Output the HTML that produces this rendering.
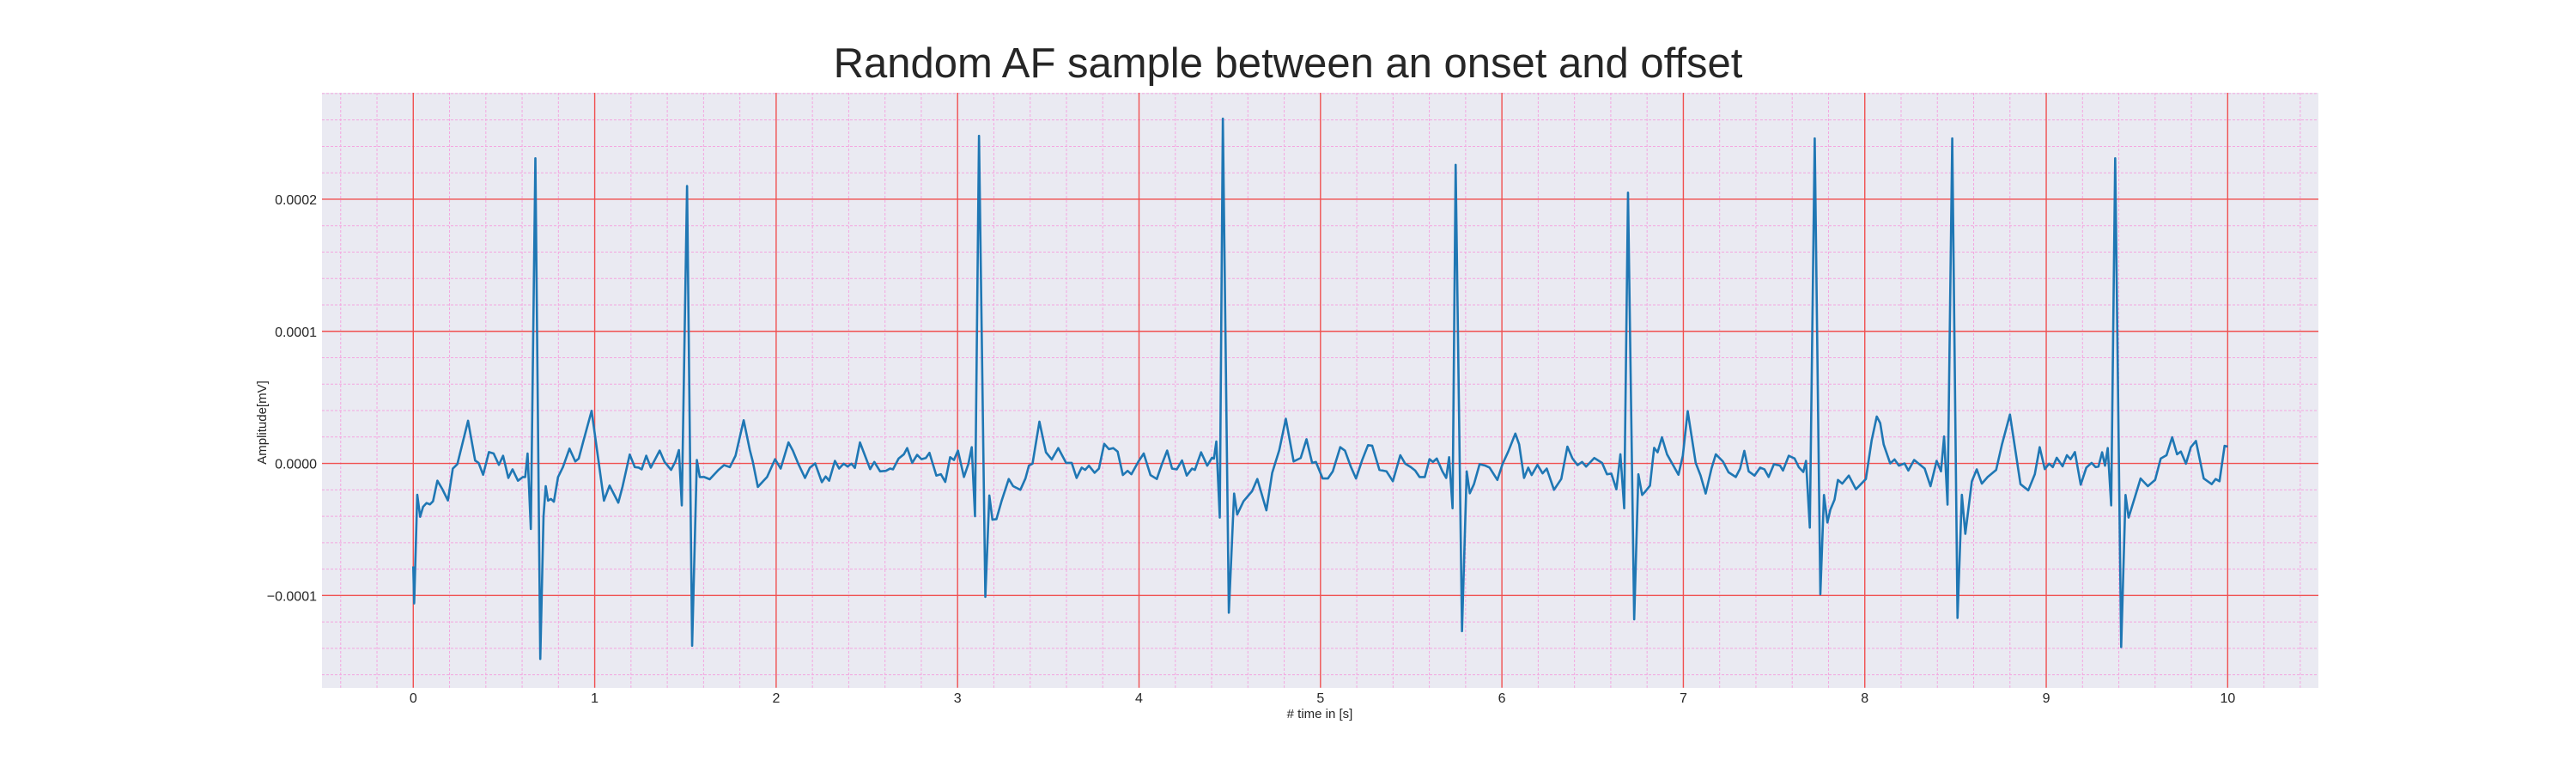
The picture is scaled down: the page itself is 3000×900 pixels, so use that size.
<!DOCTYPE html>
<html><head><meta charset="utf-8">
<style>
html,body{margin:0;padding:0;background:#fff;}
svg{display:block;font-family:"Liberation Sans",Arial,sans-serif;}
</style></head>
<body>
<svg id="chart" width="3000" height="900" viewBox="0 0 3000 900" xmlns="http://www.w3.org/2000/svg">
<text x="1500" y="90" text-anchor="middle" font-size="49" fill="#262626">Random AF sample between an onset and offset</text>
<rect x="375" y="108" width="2325" height="693" fill="#EAEAF2"/>
<g id="grid"></g>
<g id="ticks"></g>
<path id="line" fill="none" stroke="#1f77b4" stroke-width="2.6" stroke-linejoin="round"/>
<text x="1537" y="836" text-anchor="middle" font-size="15" fill="#262626"># time in [s]</text>
<text x="0" y="0" transform="translate(310,492) rotate(-90)" text-anchor="middle" font-size="15" fill="#262626">Amplitude[mV]</text>
</svg>
<script>
// Data (time in s, amplitude in units of 1e-5 mV)
const UNIT = 1e-5;
const times = [0,0.005,0.022,0.038,0.054,0.073,0.092,0.109,0.133,0.16,0.191,0.218,0.243,0.302,0.341,0.36,0.385,0.417,0.443,0.472,0.495,0.524,0.547,0.577,0.604,0.617,0.63,0.648,0.673,0.7,0.718,0.73,0.743,0.759,0.775,0.798,0.825,0.861,0.893,0.912,0.937,0.983,1.051,1.082,1.13,1.153,1.193,1.221,1.243,1.259,1.284,1.309,1.358,1.385,1.421,1.445,1.464,1.48,1.509,1.537,1.563,1.579,1.603,1.634,1.682,1.713,1.745,1.776,1.821,1.855,1.871,1.899,1.95,1.994,2.025,2.068,2.092,2.123,2.159,2.186,2.215,2.252,2.273,2.292,2.324,2.347,2.372,2.394,2.415,2.434,2.462,2.518,2.541,2.573,2.605,2.628,2.644,2.675,2.704,2.722,2.75,2.777,2.801,2.825,2.845,2.883,2.908,2.932,2.959,2.98,3.002,3.035,3.059,3.078,3.096,3.118,3.153,3.175,3.192,3.214,3.243,3.282,3.306,3.346,3.374,3.393,3.413,3.451,3.487,3.519,3.555,3.598,3.629,3.656,3.684,3.703,3.724,3.755,3.779,3.808,3.834,3.858,3.882,3.911,3.937,3.958,3.997,4.026,4.063,4.098,4.126,4.155,4.182,4.208,4.237,4.263,4.292,4.308,4.342,4.376,4.402,4.413,4.426,4.445,4.462,4.495,4.524,4.541,4.576,4.623,4.652,4.702,4.734,4.773,4.809,4.852,4.891,4.923,4.954,4.975,5.012,5.041,5.068,5.109,5.135,5.167,5.196,5.23,5.262,5.285,5.325,5.364,5.399,5.44,5.467,5.498,5.522,5.546,5.575,5.601,5.62,5.641,5.672,5.693,5.709,5.728,5.745,5.78,5.806,5.823,5.846,5.877,5.909,5.932,5.975,6.003,6.035,6.074,6.095,6.122,6.145,6.164,6.196,6.224,6.247,6.287,6.327,6.361,6.389,6.417,6.442,6.464,6.509,6.552,6.579,6.603,6.631,6.653,6.674,6.695,6.729,6.752,6.773,6.792,6.816,6.839,6.858,6.882,6.91,6.973,6.997,7.024,7.068,7.095,7.123,7.155,7.179,7.218,7.249,7.289,7.313,7.336,7.36,7.392,7.423,7.447,7.47,7.499,7.533,7.549,7.581,7.613,7.636,7.661,7.676,7.697,7.724,7.755,7.775,7.794,7.81,7.833,7.852,7.876,7.912,7.951,8.006,8.038,8.066,8.085,8.104,8.14,8.164,8.188,8.219,8.24,8.272,8.295,8.33,8.362,8.396,8.42,8.437,8.456,8.482,8.511,8.535,8.554,8.59,8.617,8.645,8.677,8.724,8.756,8.8,8.858,8.901,8.937,8.964,8.992,9.016,9.036,9.058,9.09,9.114,9.134,9.158,9.19,9.221,9.25,9.272,9.288,9.308,9.324,9.339,9.358,9.38,9.413,9.437,9.454,9.489,9.52,9.56,9.6,9.631,9.663,9.694,9.721,9.742,9.77,9.797,9.825,9.868,9.912,9.934,9.955,9.983,10.0];
const values = [-7.8,-10.6,-2.37,-4.04,-3.29,-3.0,-3.1,-2.86,-1.31,-1.94,-2.8,-0.39,-0.06,3.23,0.22,0.04,-0.86,0.86,0.75,-0.11,0.58,-1.1,-0.45,-1.31,-1.03,-1.03,0.75,-4.97,23.1,-14.8,-4.0,-1.72,-2.82,-2.69,-2.9,-1.03,-0.28,1.12,0.15,0.37,1.66,3.98,-2.82,-1.68,-2.97,-1.78,0.67,-0.28,-0.32,-0.45,0.58,-0.32,0.97,0.11,-0.49,0.15,1.01,-3.18,21.0,-13.8,0.26,-1.03,-1.03,-1.2,-0.49,-0.13,-0.28,0.58,3.27,1.01,0.15,-1.78,-1.03,0.32,-0.39,1.59,0.97,-0.06,-1.1,-0.32,0.0,-1.42,-0.99,-1.31,0.19,-0.39,-0.02,-0.24,-0.02,-0.34,1.59,-0.43,0.11,-0.6,-0.56,-0.39,-0.45,0.37,0.69,1.16,0.04,0.65,0.32,0.41,0.8,-0.92,-0.82,-1.4,0.47,0.26,0.97,-1.03,-0.06,1.23,-4.0,24.8,-10.1,-2.43,-4.26,-4.22,-2.82,-1.18,-1.72,-2.0,-1.14,-0.17,-0.02,3.16,0.84,0.3,1.16,0.04,0.04,-1.1,-0.32,-0.49,-0.17,-0.71,-0.39,1.48,1.08,1.16,0.9,-0.88,-0.56,-0.82,0.15,0.75,-0.88,-1.18,-0.06,0.97,-0.39,-0.45,0.22,-0.92,-0.39,-0.49,0.84,-0.17,0.43,0.37,1.66,-4.1,26.1,-11.3,-2.28,-3.87,-2.86,-2.1,-1.18,-3.55,-0.71,1.01,3.38,0.15,0.41,1.83,0.04,0.11,-1.14,-1.14,-0.6,1.23,0.97,-0.24,-1.14,0.26,1.38,1.34,-0.49,-0.6,-1.35,0.62,-0.02,-0.28,-0.54,-1.03,-1.03,0.32,0.11,0.37,-0.6,-1.1,0.47,-3.4,22.6,-12.7,-0.6,-2.26,-1.57,-0.06,-0.17,-0.32,-1.25,-0.06,0.9,2.26,1.44,-1.1,-0.32,-0.88,-0.11,-0.75,-0.39,-2.0,-1.18,1.27,0.37,-0.13,0.11,-0.24,0.41,0.04,-0.82,-0.77,-1.96,0.69,-3.4,20.5,-11.8,-0.82,-2.39,-2.1,-1.68,1.18,0.84,1.98,0.69,-0.86,0.58,3.96,0.04,-0.92,-2.28,-0.39,0.69,0.15,-0.67,-1.03,-0.39,0.95,-0.6,-0.92,-0.32,-0.45,-1.03,-0.06,-0.17,-0.54,0.58,0.37,-0.28,-0.65,0.19,-4.86,24.6,-9.9,-2.39,-4.47,-3.51,-2.75,-1.25,-1.53,-0.92,-1.96,-1.18,1.76,3.55,3.05,1.44,0.0,0.3,-0.17,0.0,-0.54,0.26,0.0,-0.39,-1.72,0.19,-0.6,2.04,-3.12,24.6,-11.7,-2.37,-5.33,-1.35,-0.45,-1.53,-1.03,-0.49,1.44,3.7,-1.57,-2.04,-0.82,1.23,-0.43,-0.02,-0.28,0.43,-0.22,0.62,0.32,0.86,-1.61,-0.32,0.04,-0.28,-0.24,0.84,-0.17,1.16,-3.18,23.1,-13.9,-2.39,-4.1,-2.54,-1.14,-1.72,-1.25,0.37,0.62,1.98,0.69,0.9,-0.02,1.23,1.7,-1.14,-1.57,-1.18,-1.35,1.33,1.27];
const xTickValues = [0,1,2,3,4,5,6,7,8,9,10];
const xTickLabels = ["0","1","2","3","4","5","6","7","8","9","10"];
const yTickValues = [-10,0,10,20];
const yTickLabels = ["\u22120.0001","0.0000","0.0001","0.0002"];

const NS = "http://www.w3.org/2000/svg";
const PX0 = 375, PX1 = 2700, PY0 = 108, PY1 = 800.7;
const XMIN = -0.503, XMAX = 10.5, YMIN = -16.98, YMAX = 28.06;
function xs(t){ return PX0 + (t - XMIN) / (XMAX - XMIN) * (PX1 - PX0); }
function ys(v){ return PY1 - (v - YMIN) / (YMAX - YMIN) * (PY1 - PY0); }

const grid = document.getElementById('grid');
const ticks = document.getElementById('ticks');
function mk(tag, attrs, parent){
  const e = document.createElementNS(NS, tag);
  for (const k in attrs) e.setAttribute(k, attrs[k]);
  parent.appendChild(e);
  return e;
}
// minor grid
for (let i = -2; i <= 52; i++) {
  const t = i * 0.2;
  if (i % 5 === 0) continue;
  const x = xs(t);
  if (x < PX0 || x > PX1) continue;
  const l = mk('line', {x1:x, x2:x, y1:PY0, y2:PY1, stroke:'#f4a6e0', 'stroke-width':1, 'stroke-dasharray':'3,2'}, grid);
  
  
}
for (let i = -9; i <= 14; i++) {
  const v = i * 2;
  if (i % 5 === 0) continue;
  const y = ys(v);
  if (y < PY0 || y > PY1) continue;
  const l = mk('line', {x1:PX0, x2:PX1, y1:y, y2:y, stroke:'#f4a6e0', 'stroke-width':1, 'stroke-dasharray':'3,2'}, grid);
  
  
}
// major grid + labels
xTickValues.forEach((t, i) => {
  const x = xs(t);
  const l = mk('line', {x1:x, x2:x, y1:PY0, y2:PY1, stroke:'#f05050', 'stroke-width':1.4}, grid);
  
  
  const tx = mk('text', {x:x, y:818, 'text-anchor':'middle', 'font-size':16, fill:'#262626'}, ticks);
  tx.textContent = xTickLabels[i];
  
  
});
yTickValues.forEach((v, i) => {
  const y = ys(v);
  const l = mk('line', {x1:PX0, x2:PX1, y1:y, y2:y, stroke:'#f05050', 'stroke-width':1.4}, grid);
  
  
  const tx = mk('text', {x:369, y:y + 6, 'text-anchor':'end', 'font-size':16, fill:'#262626'}, ticks);
  tx.textContent = yTickLabels[i];
  
  
});
// signal
let d = '';
for (let i = 0; i < times.length; i++) {
  d += (i ? 'L' : 'M') + xs(times[i]).toFixed(2) + ',' + ys(values[i]).toFixed(2);
}
document.getElementById('line').setAttribute('d', d);
</script>
</body></html>
